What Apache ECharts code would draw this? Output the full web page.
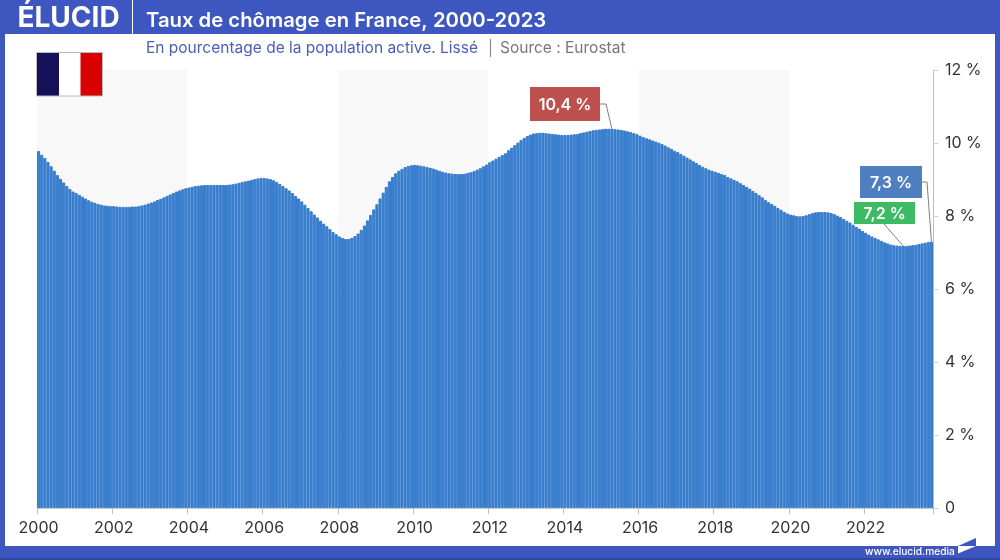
<!DOCTYPE html>
<html><head><meta charset="utf-8">
<style>html,body{margin:0;padding:0;background:#fff}#c{width:1000px;height:560px}</style>
<script src="https://cdn.jsdelivr.net/npm/echarts@6/dist/echarts.min.js"></script>
</head><body><div id="c"></div>
<script>
const startYear = 2000;
const values2000 = [9.78,9.68,9.59,9.48,9.36,9.24,9.12,9.02,8.92,8.82,8.74,8.67];
const values2001 = [8.63,8.58,8.53,8.48,8.43,8.39,8.36,8.33,8.31,8.29,8.28,8.27];
const values2002 = [8.27,8.26,8.25,8.25,8.25,8.25,8.26,8.26,8.27,8.29,8.31,8.34];
const values2003 = [8.37,8.40,8.44,8.47,8.51,8.55,8.59,8.63,8.67,8.70,8.73,8.76];
const values2004 = [8.78,8.80,8.82,8.83,8.84,8.85,8.85,8.85,8.85,8.85,8.85,8.85];
const values2005 = [8.85,8.86,8.87,8.89,8.91,8.93,8.95,8.97,8.99,9.01,9.03,9.04];
const values2006 = [9.04,9.03,9.01,8.98,8.93,8.88,8.82,8.76,8.70,8.63,8.55,8.48];
const values2007 = [8.40,8.31,8.22,8.13,8.04,7.96,7.87,7.79,7.72,7.64,7.56,7.50];
const values2008 = [7.44,7.40,7.37,7.37,7.40,7.45,7.52,7.62,7.74,7.88,8.03,8.18];
const values2009 = [8.32,8.48,8.64,8.80,8.95,9.07,9.17,9.24,9.29,9.34,9.37,9.39];
const values2010 = [9.40,9.39,9.38,9.36,9.34,9.32,9.30,9.27,9.24,9.21,9.19,9.17];
const values2011 = [9.16,9.15,9.15,9.15,9.16,9.18,9.20,9.23,9.27,9.31,9.36,9.41];
const values2012 = [9.47,9.52,9.57,9.62,9.67,9.72,9.80,9.87,9.94,10.01,10.08,10.14];
const values2013 = [10.19,10.23,10.26,10.27,10.28,10.28,10.27,10.26,10.25,10.24,10.23,10.22];
const values2014 = [10.22,10.22,10.23,10.24,10.25,10.27,10.29,10.31,10.33,10.35,10.36,10.37];
const values2015 = [10.38,10.39,10.39,10.39,10.38,10.37,10.36,10.34,10.32,10.30,10.27,10.24];
const values2016 = [10.20,10.16,10.13,10.10,10.07,10.04,10.01,9.97,9.93,9.88,9.84,9.79];
const values2017 = [9.75,9.70,9.65,9.60,9.55,9.50,9.45,9.40,9.35,9.31,9.27,9.24];
const values2018 = [9.21,9.18,9.15,9.12,9.07,9.03,8.99,8.95,8.90,8.85,8.80,8.75];
const values2019 = [8.69,8.63,8.57,8.51,8.44,8.38,8.33,8.28,8.22,8.17,8.11,8.07];
const values2020 = [8.04,8.02,8.00,7.99,8.00,8.02,8.05,8.08,8.10,8.11,8.11,8.11];
const values2021 = [8.10,8.08,8.05,8.01,7.97,7.92,7.87,7.82,7.76,7.70,7.65,7.59];
const values2022 = [7.54,7.49,7.44,7.40,7.36,7.32,7.28,7.25,7.22,7.20,7.19,7.18];
const values2023 = [7.18,7.18,7.19,7.20,7.21,7.23,7.25,7.27,7.29,7.30];

const rate = [].concat(values2000,values2001,values2002,values2003,values2004,values2005,values2006,values2007,
  values2008,values2009,values2010,values2011,values2012,values2013,values2014,values2015,values2016,values2017,
  values2018,values2019,values2020,values2021,values2022,values2023);
const categories = rate.map((_, i) => String(startYear + Math.floor(i / 12)));

const FONT = 'Inter, "Open Sans", sans-serif';
const BLUE = '#3e56bf';
const chart = echarts.init(document.getElementById('c'), null, {renderer:'canvas'});

chart.setOption({
  animation:false,
  backgroundColor:'#fff',
  grid:{left:37,right:67,top:70,bottom:52},
  xAxis:{type:'category',data:categories,boundaryGap:true,
    axisLine:{lineStyle:{color:'#c8c8c8',width:1}},
    axisTick:{show:true,interval:23,length:6,lineStyle:{color:'#bdbdbd'}},
    axisLabel:{interval:23,color:'#333',fontFamily:FONT,fontSize:16,margin:12,hideOverlap:false},
    splitLine:{show:false},
    splitArea:{show:true,interval:47,areaStyle:{color:['#f8f8f8','#ffffff']}}
  },
  yAxis:{type:'value',position:'right',min:0,max:12,interval:2,
    axisLine:{show:true,lineStyle:{color:'#bdbdbd'}},
    axisTick:{show:true,length:5,lineStyle:{color:'#d0d0d0'}},
    splitLine:{show:true,lineStyle:{color:'#e9e9e9'}},
    axisLabel:{color:'#333',fontFamily:FONT,fontSize:16,margin:12,formatter:v=>v===0?'0':v+' %'}
  },
  series:[{type:'bar',data:rate,barCategoryGap:'0%',itemStyle:{color:'#3a7fce',borderColor:'#377ccc',borderWidth:1},silent:true}]
});

// callout anchors come from the data through the axes
const annotations = [
  {label:'10,4 %',idx:183,color:'#bf5050',box:[530,87,70,34],from:[600,104],knee:[606,104],fs:16},
  {label:'7,2 %',idx:276,color:'#3cba64',box:[854,202,61,22],from:[884,224],knee:null,fs:16},
  {label:'7,3 %',idx:rate.length-1,color:'#4e7fc0',box:[860,166,62,32],from:[922,182],knee:[927,182],fs:16}
];
const gfx = [];
const rect=(x,y,w,h,fill,z)=>gfx.push({type:'rect',shape:{x,y,width:w,height:h},style:{fill},z:z||50,silent:true});
const text=(x,y,t,fill,font,extra,z)=>gfx.push({type:'text',x,y,style:Object.assign({text:t,fill,font,textVerticalAlign:'middle'},extra||{}),z:z||51,silent:true});
rect(0,0,1000,34,BLUE);
rect(0,0,5,560,BLUE);
rect(995,0,5,560,BLUE);
rect(0,546,1000,14,BLUE);
rect(0,558,1000,2,'#34479f',51);
rect(132,0,1,34,'#fff',51);
text(17.5,19,'ÉLUCID','#fff','700 28px '+FONT);
text(146,20.5,'Taux de chômage en France, 2000-2023','#fff','600 20.3px '+FONT);
text(146,48,'En pourcentage de la population active. Lissé','#4a5fb5','400 15.5px '+FONT);
text(488,48,'|','#888','400 15px '+FONT);
text(500,48,'Source : Eurostat','#777','400 15.5px '+FONT);
// flag
rect(37,53,22,43,'#14105a',40);
rect(59,53,21.5,43,'#fff',40);
rect(80.5,53,22,43,'#d80000',40);
gfx.push({type:'rect',shape:{x:36.5,y:52.5,width:66,height:43.5},style:{fill:'none',stroke:'#bbb',lineWidth:1},z:41,silent:true});
// footer
text(865,552,'www.elucid.media','#fff','500 10.2px '+FONT);
gfx.push({type:'polygon',shape:{points:[[958,546],[976,538],[976,546]]},style:{fill:BLUE},z:51,silent:true});
gfx.push({type:'polygon',shape:{points:[[958,546],[976,546],[958,553.5]]},style:{fill:'#fff'},z:51,silent:true});
// callouts
annotations.forEach(a=>{
  const end = chart.convertToPixel({xAxisIndex:0,yAxisIndex:0},[a.idx,rate[a.idx]]);
  const pts = a.knee ? [a.from,a.knee,end] : [a.from,end];
  gfx.push({type:'polyline',shape:{points:pts},style:{stroke:'#808080',lineWidth:1,fill:'none'},z:60,silent:true});
  rect(a.box[0],a.box[1],a.box[2],a.box[3],a.color,61);
  text(a.box[0]+a.box[2]/2,a.box[1]+a.box[3]/2+1.5,a.label,'#fff','600 '+a.fs+'px '+FONT,{textAlign:'center'},62);
});
chart.setOption({graphic:{elements:gfx}});
</script>
</body></html>
